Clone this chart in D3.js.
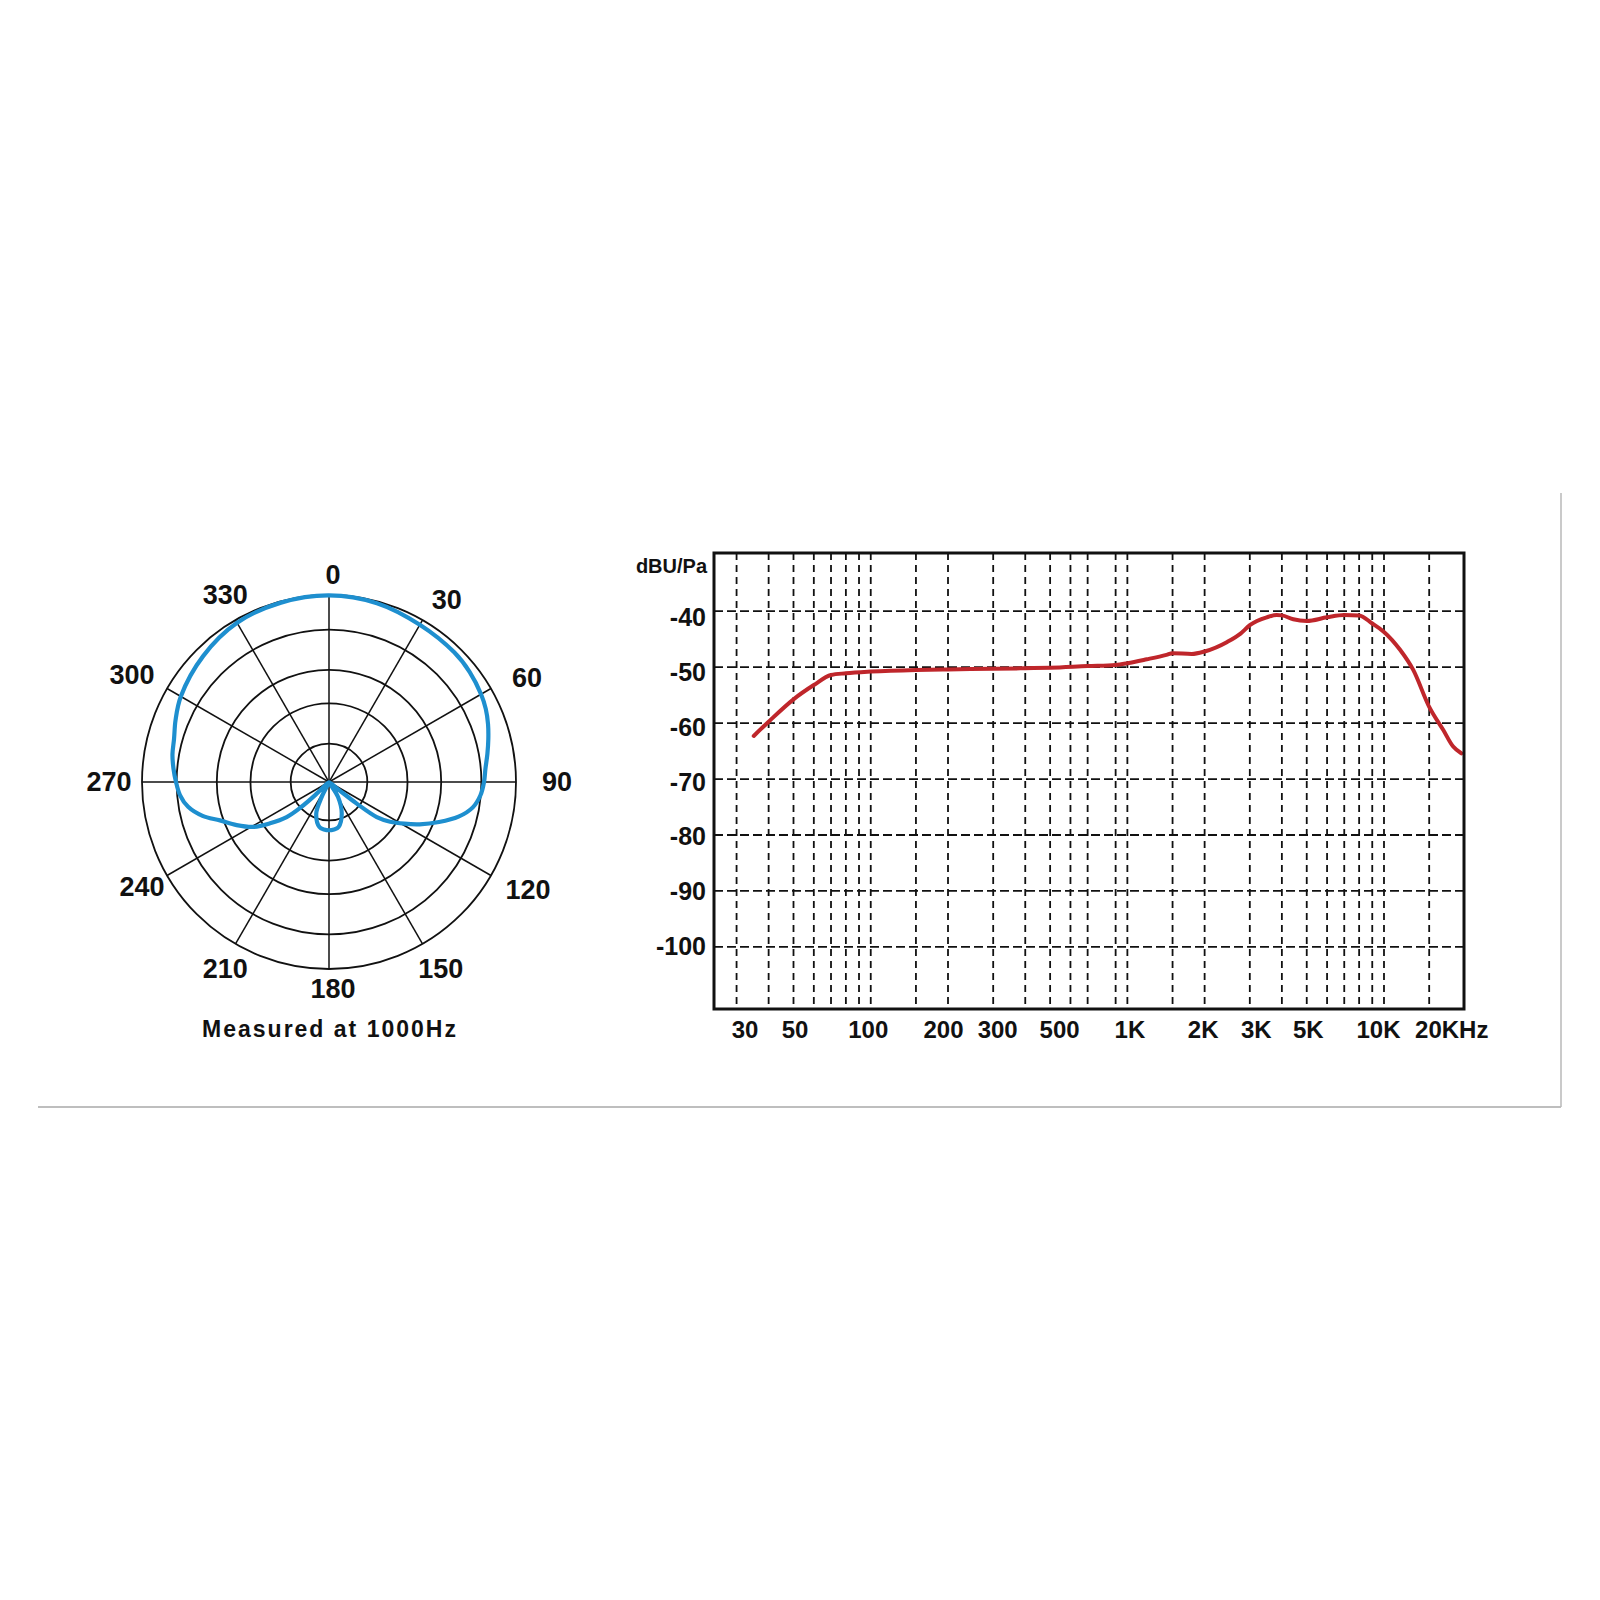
<!DOCTYPE html>
<html>
<head>
<meta charset="utf-8">
<script src="https://cdn.jsdelivr.net/npm/d3@7"></script>
<style>
  html, body { margin: 0; padding: 0; background: #ffffff; }
  svg { display: block; }
  text { font-family: "Liberation Sans", Arial, sans-serif; font-weight: bold; fill: #111; }
</style>
</head>
<body>
<svg id="chart" width="1600" height="1600"></svg>
<script>
// ---------------- DATA ----------------
// Polar pattern (angle in degrees, clockwise from 0 at top; level = relative radius 0..1)
const polarAngles = [0, 15, 30, 44, 52, 60, 65, 70, 75, 80, 85, 90, 95, 100, 105, 110, 115, 119, 123, 126.3, 127.9, 128.6, 129.5,
  143, 149, 158, 168, 174, 180, 186, 192, 202, 206, 212,
  225.5, 226.5, 228, 230.4, 235, 239.3, 245, 250.6, 255, 260, 265, 270, 275, 280, 285.5, 292, 300, 315, 330, 345];
const polarLevels = [0.998, 0.99, 0.971, 0.964, 0.955, 0.939, 0.925, 0.905, 0.882, 0.86, 0.84, 0.829, 0.813, 0.781, 0.717, 0.626, 0.535, 0.46, 0.39, 0.317, 0.188, 0.074, 0.003,
  0.003, 0.094, 0.182, 0.246, 0.255, 0.258, 0.255, 0.246, 0.182, 0.09, 0.003,
  0.003, 0.1, 0.2, 0.294, 0.385, 0.47, 0.545, 0.618, 0.70, 0.765, 0.80, 0.818, 0.835, 0.85, 0.86, 0.885, 0.915, 0.952, 0.983, 0.993];
const ringLevels = [0.205, 0.42, 0.60, 0.815, 1.0];
const spokeAngles = [0, 30, 60, 90, 120, 150, 180, 210, 240, 270, 300, 330];
const polarCaption = "Measured at 1000Hz";

// Frequency response
const freqHz = [35, 40, 50, 60, 70, 80, 100, 150, 200, 300, 400, 500, 700, 900, 1000, 1190, 1420, 1500, 1780, 2000,
  2450, 2760, 3000, 3490, 3820, 4000, 4430, 5000, 6000, 7000, 8000, 9000, 10000, 11550, 13000, 15000, 17000, 18600, 20000];
const responseDb = [-62.3, -59.75, -55.75, -53.2, -51.4, -51.1, -50.8, -50.5, -50.4, -50.3, -50.2, -50.1, -49.8, -49.6, -49.3, -48.6, -47.8, -47.5, -47.65, -47.2,
  -45.5, -44.0, -42.5, -41.1, -40.7, -40.75, -41.45, -41.75, -41.1, -40.7, -40.75, -42.2, -43.7, -46.9, -50.5, -57.1, -61.2, -64.2, -65.4];
const gridFreqs = [30, 40, 50, 60, 70, 80, 90, 100, 150, 200, 300, 400, 500, 600, 700, 900, 1000, 1500, 2000, 3000, 4000, 5000, 6000, 7000, 8000, 9000, 10000, 15000];
const freqTickValues = [30, 50, 100, 200, 300, 500, 1000, 2000, 3000, 5000, 10000, 20000];
const freqTickLabels = ["30", "50", "100", "200", "300", "500", "1K", "2K", "3K", "5K", "10K", "20KHz"];
const dbTicks = [-40, -50, -60, -70, -80, -90, -100];
const dbUnit = "dBU/Pa";

// ---------------- LAYOUT ----------------
// hand-set label nudges (pixels) as in the printed chart
const xLabelNudge = { "30": 8, "50": 1, "100": -3, "200": -5, "300": 4, "500": 9, "1K": 2, "2K": -2, "3K": 6, "5K": 1, "10K": -6, "20KHz": -10 };
const angleLabelNudge = { 30: [6, 5], 60: [2, 7], 120: [3, -3], 240: [1, -6], 300: [-9, 4] };

// ---------------- DRAW ----------------
const svg = d3.select("#chart");
svg.append("rect").attr("width", 1600).attr("height", 1600).attr("fill", "#fff");

// Panel border lines (light gray)
svg.append("line").attr("x1", 38).attr("x2", 1561).attr("y1", 1107).attr("y2", 1107)
  .attr("stroke", "#a8a8a8").attr("stroke-width", 1.5);
svg.append("line").attr("x1", 1561).attr("x2", 1561).attr("y1", 493).attr("y2", 1107)
  .attr("stroke", "#b8b8b8").attr("stroke-width", 1.5);

// ---- Polar chart ----
const cx = 329, cy = 782, R = 187;
const rScale = d3.scaleLinear().domain([0, 1]).range([0, R]);
const polar = svg.append("g").attr("transform", `translate(${cx},${cy})`);

polar.selectAll("circle.ring").data(ringLevels).join("circle")
  .attr("class", "ring").attr("r", d => rScale(d))
  .attr("fill", "none").attr("stroke", "#111").attr("stroke-width", 1.8);

polar.selectAll("line.spoke").data(spokeAngles).join("line")
  .attr("class", "spoke")
  .attr("x1", 0).attr("y1", 0)
  .attr("x2", d => rScale(1) * Math.sin(d * Math.PI / 180))
  .attr("y2", d => -rScale(1) * Math.cos(d * Math.PI / 180))
  .attr("stroke", "#111").attr("stroke-width", 1.5);

function labelPos(d) {
  const a = d * Math.PI / 180;
  const rr = R + 20 + 17 * Math.abs(Math.sin(a));
  const n = angleLabelNudge[d] || [0, 0];
  return [rr * Math.sin(a) + 4 + n[0], -rr * Math.cos(a) + n[1]];
}
polar.selectAll("text.alabel").data(spokeAngles).join("text")
  .attr("class", "alabel")
  .attr("x", d => labelPos(d)[0])
  .attr("y", d => labelPos(d)[1])
  .attr("text-anchor", "middle").attr("dominant-baseline", "central")
  .attr("font-size", 27)
  .text(d => d);

const polarPoints = polarAngles.map((a, i) => ({ a: a, v: polarLevels[i] }));
const radial = d3.lineRadial()
  .angle(d => d.a * Math.PI / 180)
  .radius(d => rScale(d.v))
  .curve(d3.curveCatmullRomClosed.alpha(0.5));
polar.append("path").datum(polarPoints)
  .attr("d", radial)
  .attr("fill", "none").attr("stroke", "#1e8fcf").attr("stroke-width", 4.2)
  .attr("stroke-linejoin", "round");

svg.append("text").attr("x", cx + 1).attr("y", 1037)
  .attr("text-anchor", "middle").attr("font-size", 23).attr("letter-spacing", 2)
  .text(polarCaption);

// ---- Frequency response ----
const L = 714, T = 553, Rr = 1464, B = 1009;
const x = d3.scaleLog().domain([24.5, 20500]).range([L, Rr]);
const y = d3.scaleLinear().domain([-111.1, -29.6]).range([B, T]);
// printed dB labels are spaced slightly tighter than the grid
const yLabel = d3.scaleLinear().domain([-40, -100]).range([617, 946]);

const grid = svg.append("g");
grid.selectAll("line.vg").data(gridFreqs).join("line")
  .attr("class", "vg")
  .attr("x1", d => x(d)).attr("x2", d => x(d))
  .attr("y1", T).attr("y2", B)
  .attr("stroke", "#111").attr("stroke-width", 1.8).attr("stroke-dasharray", "7,5");
grid.selectAll("line.hg").data(dbTicks).join("line")
  .attr("class", "hg")
  .attr("x1", L).attr("x2", Rr)
  .attr("y1", d => y(d)).attr("y2", d => y(d))
  .attr("stroke", "#111").attr("stroke-width", 1.8).attr("stroke-dasharray", "9,4");

// X axis labels
const xAxis = d3.axisBottom(x).tickValues(freqTickValues)
  .tickFormat((d, i) => freqTickLabels[i]).tickSize(0).tickPadding(12);
const gx = svg.append("g").attr("transform", `translate(0,${B})`).call(xAxis);
gx.select(".domain").remove();
gx.selectAll("text").attr("font-size", 24).attr("font-family", "Liberation Sans, Arial, sans-serif")
  .attr("font-weight", "bold").attr("fill", "#111")
  .attr("dx", (d, i) => xLabelNudge[freqTickLabels[i]] || 0);

// Y axis labels
const gy = svg.append("g");
gy.selectAll("text").data(dbTicks).join("text")
  .attr("x", L - 8).attr("y", d => yLabel(d))
  .attr("text-anchor", "end").attr("dominant-baseline", "central")
  .attr("font-size", 25)
  .text(d => String(d));

svg.append("text").attr("x", 707).attr("y", 573)
  .attr("text-anchor", "end").attr("font-size", 20)
  .text(dbUnit);

// Response curve
const resp = freqHz.map((f, i) => ({ f: f, v: responseDb[i] }));
const line = d3.line().x(d => x(d.f)).y(d => y(d.v)).curve(d3.curveMonotoneX);
svg.append("path").datum(resp).attr("d", line)
  .attr("fill", "none").attr("stroke", "#bf262b").attr("stroke-width", 4)
  .attr("stroke-linejoin", "round").attr("stroke-linecap", "round");

// Frame
svg.append("rect").attr("x", L).attr("y", T).attr("width", Rr - L).attr("height", B - T)
  .attr("fill", "none").attr("stroke", "#111").attr("stroke-width", 3);
</script>
</body>
</html>
